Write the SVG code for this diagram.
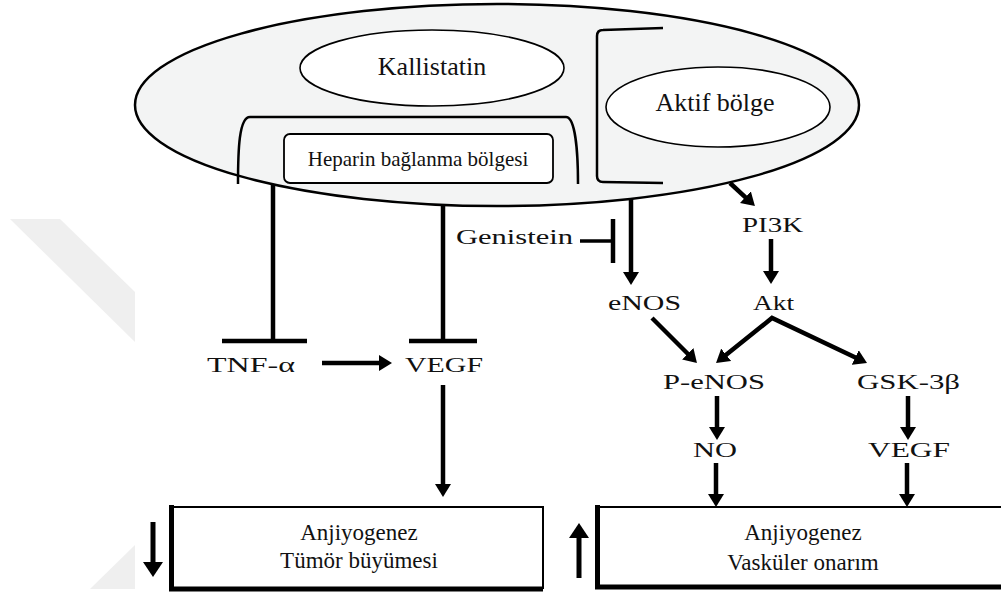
<svg xmlns="http://www.w3.org/2000/svg" width="1001" height="592" viewBox="0 0 1001 592">
<style>
text{font-family:'Liberation Serif','Times New Roman',serif;fill:#111}
.lbl{font-size:21px}
.big{font-size:26px;text-anchor:middle}
.box{font-size:23px;text-anchor:middle}
.ar{stroke:#000;stroke-width:4.5;fill:none;marker-end:url(#ah)}
.inh{stroke:#000;stroke-width:4.5;fill:none}
.br{stroke:#000;stroke-width:2.5;fill:none}
</style>
<defs>
<marker id="ah" markerUnits="userSpaceOnUse" viewBox="0 0 13 16" markerWidth="13" markerHeight="16" refX="6" refY="8" orient="auto-start-reverse">
<path d="M0,0 L13,8 L0,16 z" fill="#000"/>
</marker>
<marker id="ahb" markerUnits="userSpaceOnUse" viewBox="0 0 15 20" markerWidth="15" markerHeight="20" refX="7" refY="10" orient="auto">
<path d="M0,0 L15,10 L0,20 z" fill="#000"/>
</marker>
</defs>
<rect width="1001" height="592" fill="#fff"/>
<g id="watermark" fill="#efefef">
<polygon points="10,219 60,219 135,292 135,342"/>
<polygon points="90,589 135,545 135,589"/>
</g>
<g id="kallistatin-protein">
<ellipse cx="497" cy="105" rx="362" ry="101" fill="#f3f4f4" stroke="#000" stroke-width="2.5"/>
<path class="br" d="M663,28 L603,30 Q597,30 597,36 L597,176 Q597,182 603,182 L663,183"/>
<path class="br" d="M238,184 C238,150 239,117 250,117 L566,117 C575,117 578,150 578,184"/>
</g>
<g id="kallistatin">
<ellipse cx="432" cy="68" rx="132" ry="38" fill="#fff" stroke="#000" stroke-width="1.6"/>
<text class="big" x="432" y="75" font-family="Liberation Serif, serif" font-size="26" text-anchor="middle">Kallistatin</text>
</g>
<g id="aktif-bolge">
<ellipse cx="718" cy="107" rx="112" ry="40" fill="#fff" stroke="#000" stroke-width="1.6"/>
<text class="big" x="715" y="111" font-family="Liberation Serif, serif" font-size="26" text-anchor="middle">Aktif bölge</text>
</g>
<g id="heparin">
<rect x="284" y="134" width="269" height="49" rx="6" fill="#fff" stroke="#000" stroke-width="1.8"/>
<text x="418" y="166" font-family="Liberation Serif, serif" font-size="21" text-anchor="middle">Heparin bağlanma bölgesi</text>
</g>
<g id="genistein"><text class="lbl" x="456" y="244" textLength="117" lengthAdjust="spacingAndGlyphs">Genistein</text></g>
<g id="pi3k"><text class="lbl" x="742" y="232" textLength="61" lengthAdjust="spacingAndGlyphs">PI3K</text></g>
<g id="enos"><text class="lbl" x="608" y="310" textLength="73" lengthAdjust="spacingAndGlyphs">eNOS</text></g>
<g id="akt"><text class="lbl" x="753" y="310" textLength="41" lengthAdjust="spacingAndGlyphs">Akt</text></g>
<g id="tnf"><text class="lbl" x="207" y="372" textLength="88" lengthAdjust="spacingAndGlyphs">TNF-α</text></g>
<g id="vegf-left"><text class="lbl" x="405" y="372" textLength="78" lengthAdjust="spacingAndGlyphs">VEGF</text></g>
<g id="p-enos"><text class="lbl" x="663" y="389" textLength="102" lengthAdjust="spacingAndGlyphs">P-eNOS</text></g>
<g id="gsk"><text class="lbl" x="857" y="389" textLength="103" lengthAdjust="spacingAndGlyphs">GSK-3β</text></g>
<g id="no"><text class="lbl" x="693" y="457" textLength="44" lengthAdjust="spacingAndGlyphs">NO</text></g>
<g id="vegf-right"><text class="lbl" x="868" y="457" textLength="82" lengthAdjust="spacingAndGlyphs">VEGF</text></g>
<g id="box-left">
<rect x="171" y="507" width="372" height="81" fill="#fff" stroke="#000" stroke-width="2"/>
<path d="M171.5,505 L171.5,589 L543,589" fill="none" stroke="#000" stroke-width="5"/>
<text class="box" x="359" y="540" font-family="Liberation Serif, serif" font-size="23" text-anchor="middle">Anjiyogenez</text>
<text class="box" x="359" y="568" font-family="Liberation Serif, serif" font-size="23" text-anchor="middle">Tümör büyümesi</text>
</g>
<g id="box-right">
<rect x="597" y="507" width="420" height="80" fill="#fff" stroke="#000" stroke-width="2"/>
<path d="M597.5,505 L597.5,587 L1005,587" fill="none" stroke="#000" stroke-width="5"/>
<text class="box" x="803" y="540" font-family="Liberation Serif, serif" font-size="23" text-anchor="middle">Anjiyogenez</text>
<text class="box" x="803" y="570" font-family="Liberation Serif, serif" font-size="23" text-anchor="middle">Vasküler onarım</text>
</g>
<g id="connectors">
<line class="inh" x1="273" y1="184" x2="273" y2="341"/>
<line class="inh" x1="222" y1="341" x2="307" y2="341"/>
<line class="inh" x1="443" y1="205" x2="443" y2="341"/>
<line class="inh" x1="409" y1="341" x2="477" y2="341"/>
<line x1="580" y1="241" x2="613" y2="241" stroke="#000" stroke-width="3.5"/>
<line class="inh" x1="613" y1="219" x2="613" y2="263"/>
<line class="ar" x1="322" y1="363" x2="385" y2="363" stroke-width="3.5"/>
<line class="ar" x1="443" y1="385" x2="443" y2="490"/>
<line class="ar" x1="631" y1="199" x2="631" y2="278"/>
<line class="ar" x1="730" y1="183" x2="749.8" y2="201.3"/>
<line class="ar" x1="771" y1="239" x2="771" y2="277"/>
<line class="ar" x1="652" y1="318" x2="692" y2="358"/>
<path d="M721.5,358.6 L772,318 L860.7,360" fill="none" stroke="#000" stroke-width="4.5" stroke-linejoin="miter" marker-start="url(#ah)" marker-end="url(#ah)"/>
<line class="ar" x1="717" y1="396" x2="717" y2="433"/>
<line class="ar" x1="908" y1="396" x2="908" y2="433"/>
<line class="ar" x1="716" y1="463" x2="716" y2="500"/>
<line class="ar" x1="907" y1="463" x2="907" y2="500"/>
<line x1="153" y1="522" x2="153" y2="569" stroke="#000" stroke-width="5" marker-end="url(#ahb)"/>
<line x1="579" y1="578" x2="579" y2="531" stroke="#000" stroke-width="5" marker-end="url(#ahb)"/>
</g>
</svg>
